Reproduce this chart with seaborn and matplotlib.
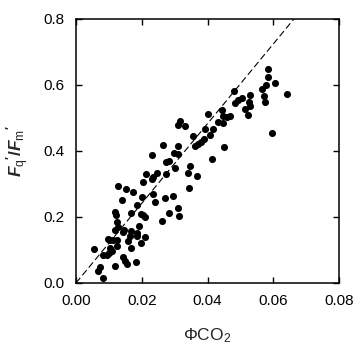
import numpy as np
import pandas as pd
import matplotlib
matplotlib.use("Agg")
import matplotlib.pyplot as plt
import seaborn as sns

# Data
phi_co2 = [0.0583, 0.0583, 0.0605, 0.0579, 0.0567, 0.0641, 0.0482, 0.0530, 0.0573, 0.0575,
           0.0504, 0.0494, 0.0484, 0.0526, 0.0529, 0.0514, 0.0523, 0.0443, 0.0402, 0.0448,
           0.0468, 0.0458, 0.0433, 0.0447, 0.0316, 0.0311, 0.0333, 0.0392, 0.0416, 0.0409,
           0.0355, 0.0389, 0.0380, 0.0370, 0.0362, 0.0595, 0.0450, 0.0414, 0.0347, 0.0264,
           0.0311, 0.0231, 0.0298, 0.0311, 0.0275, 0.0284, 0.0301, 0.0340, 0.0369, 0.0247,
           0.0235, 0.0231, 0.0214, 0.0205, 0.0345, 0.0129, 0.0152, 0.0173, 0.0201, 0.0141,
           0.0235, 0.0240, 0.0271, 0.0294, 0.0274, 0.0310, 0.0284, 0.0313, 0.0263, 0.0185,
           0.0166, 0.0120, 0.0122, 0.0198, 0.0204, 0.0211, 0.0126, 0.0191, 0.0128, 0.0146,
           0.0142, 0.0119, 0.0167, 0.0186, 0.0164, 0.0185, 0.0211, 0.0096, 0.0103, 0.0113,
           0.0124, 0.0157, 0.0198, 0.0124, 0.0166, 0.0055, 0.0103, 0.0111, 0.0100, 0.0093,
           0.0081, 0.0143, 0.0150, 0.0154, 0.0181, 0.0120, 0.0072, 0.0068, 0.0081]
fq_fm = [0.648, 0.625, 0.607, 0.599, 0.587, 0.573, 0.583, 0.570, 0.567, 0.549,
         0.562, 0.555, 0.546, 0.547, 0.536, 0.526, 0.508, 0.523, 0.511, 0.506,
         0.505, 0.503, 0.489, 0.484, 0.492, 0.480, 0.477, 0.468, 0.468, 0.447,
         0.444, 0.436, 0.428, 0.421, 0.415, 0.456, 0.412, 0.377, 0.355, 0.417,
         0.415, 0.388, 0.395, 0.392, 0.367, 0.370, 0.348, 0.334, 0.325, 0.333,
         0.322, 0.314, 0.329, 0.306, 0.289, 0.294, 0.284, 0.276, 0.261, 0.253,
         0.270, 0.246, 0.258, 0.264, 0.330, 0.227, 0.212, 0.203, 0.189, 0.236,
         0.213, 0.214, 0.205, 0.209, 0.205, 0.201, 0.185, 0.173, 0.170, 0.161,
         0.156, 0.161, 0.159, 0.152, 0.142, 0.142, 0.139, 0.132, 0.130, 0.130,
         0.129, 0.128, 0.120, 0.112, 0.106, 0.102, 0.105, 0.096, 0.090, 0.085,
         0.085, 0.078, 0.068, 0.059, 0.064, 0.052, 0.049, 0.036, 0.014]

line_slope = 12.07  # dashed reference line through the origin

x_ticks = [0.00, 0.02, 0.04, 0.06, 0.08]
x_ticklabels = ["0.00", "0.02", "0.04", "0.06", "0.08"]
y_ticks = [0.0, 0.2, 0.4, 0.6, 0.8]
y_ticklabels = ["0.0", "0.2", "0.4", "0.6", "0.8"]

df = pd.DataFrame({"phi": phi_co2, "fq": fq_fm})

sns.set_style("ticks")
plt.rcParams["font.family"] = ["Liberation Sans", "DejaVu Sans"]
plt.rcParams["mathtext.fontset"] = "custom"
plt.rcParams["mathtext.rm"] = "Liberation Sans"
plt.rcParams["mathtext.it"] = "Liberation Sans:italic:bold"
plt.rcParams["mathtext.bf"] = "Liberation Sans:bold"

fig = plt.figure(figsize=(3.62, 3.5), dpi=100)
ax = fig.add_axes([76 / 362, 67 / 350, 263 / 362, 264 / 350])

sns.scatterplot(data=df, x="phi", y="fq", color="black", s=26, linewidth=0,
                marker="o", ax=ax, zorder=3)

lx = np.array([0.0, 0.8 / line_slope])
ax.plot(lx, lx * line_slope, color="black", lw=0.8, linestyle=(0, (6, 3)), zorder=2)

ax.set_xlim(0, 0.08)
ax.set_ylim(0, 0.8)
ax.set_xticks(x_ticks)
ax.set_xticklabels(x_ticklabels)
ax.set_yticks(y_ticks)
ax.set_yticklabels(y_ticklabels)
ax.tick_params(direction="in", length=4, width=1, top=True, right=True,
               labelsize=11, pad=8, colors="black")
for sp in ax.spines.values():
    sp.set_visible(True)
    sp.set_linewidth(1.1)
    sp.set_color("black")

ax.set_xlabel(r"$\mathrm{\Phi CO_2}$", fontsize=12.5, labelpad=13)
ax.set_ylabel(r"$F_\mathrm{q}\mathbf{'/}F_\mathrm{m}\mathbf{'}$", fontsize=12.5, labelpad=9)

fig.savefig("out.png", dpi=100)
